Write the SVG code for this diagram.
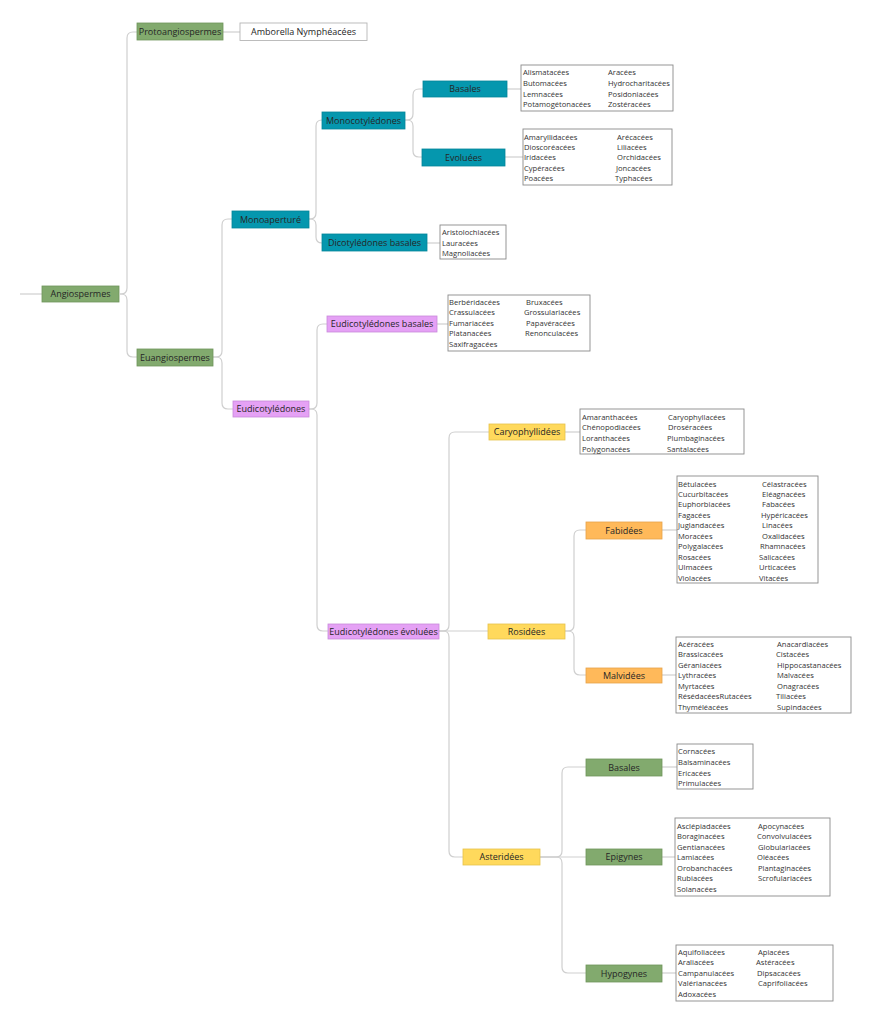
<svg xmlns="http://www.w3.org/2000/svg" width="889" height="1024" viewBox="0 0 889 1024">
<style>
.bg{fill:#ffffff}
.c{fill:none;stroke:#cfcfcf;stroke-width:1.2}
.g{fill:#82aa6e;stroke:#6e955b;stroke-width:0.8}
.t{fill:#0597ae;stroke:#048599;stroke-width:0.8}
.p{fill:#e5a1f5;stroke:#c98ad9;stroke-width:0.8}
.y{fill:#ffd95c;stroke:#e6c24b;stroke-width:0.8}
.o{fill:#ffb95a;stroke:#e6a24a;stroke-width:0.8}
.lb{fill:#ffffff;stroke:#8a8a8a;stroke-width:0.9}
.lb2{fill:#ffffff;stroke:#b5b5b5;stroke-width:0.9}
.nl{font-family:"Open Sans","DejaVu Sans",sans-serif;font-size:9px;fill:#262626;text-anchor:middle}
.li{font-family:"Open Sans","DejaVu Sans",sans-serif;font-size:7.6px;fill:#333333}
</style>
<rect class="bg" x="0" y="0" width="889" height="1024"/>
<g id="connectors">
<path class="c" d="M20,294 H42"/>
<path class="c" d="M120,294 H121 Q127,294 127,288 V38 Q127,32 133,32 H137"/>
<path class="c" d="M120,294 H121 Q127,294 127,300 V351 Q127,357 133,357 H137"/>
<path class="c" d="M213,357 H216 Q222,357 222,351 V225 Q222,219 228,219 H232"/>
<path class="c" d="M213,357 H216 Q222,357 222,363 V403 Q222,409 228,409 H233"/>
<path class="c" d="M309,219 H310 Q316,219 316,213 V126 Q316,120 322,120"/>
<path class="c" d="M309,219 H310 Q316,219 316,225 V237 Q316,243 322,243"/>
<path class="c" d="M405,120 H407 Q413,120 413,114 V95 Q413,89 419,89 H423"/>
<path class="c" d="M405,120 H407 Q413,120 413,126 V151 Q413,157 419,157 H422"/>
<path class="c" d="M309,409 H311 Q317,409 317,403 V330 Q317,324 323,324 H327"/>
<path class="c" d="M309,409 H311 Q317,409 317,415 V625 Q317,631 323,631 H328"/>
<path class="c" d="M439,631 H443 Q449,631 449,625 V438 Q449,432 455,432 H489"/>
<path class="c" d="M439,631 H488"/>
<path class="c" d="M439,631 H443 Q449,631 449,637 V851 Q449,857 455,857 H463"/>
<path class="c" d="M565,631 H568 Q574,631 574,625 V536 Q574,530 580,530 H586"/>
<path class="c" d="M565,631 H568 Q574,631 574,637 V669 Q574,675 580,675 H586"/>
<path class="c" d="M540,857 H556 Q562,857 562,851 V773 Q562,767 568,767 H586"/>
<path class="c" d="M540,857 H586"/>
<path class="c" d="M540,857 H556 Q562,857 562,863 V967 Q562,973 568,973 H586"/>
<path class="c" d="M223,32 H240"/>
<path class="c" d="M507,89 H521"/>
<path class="c" d="M505,157 H523"/>
<path class="c" d="M427,243 H440"/>
<path class="c" d="M437,324 H448"/>
<path class="c" d="M565,432 H580"/>
<path class="c" d="M662,530 H677"/>
<path class="c" d="M662,675 H676"/>
<path class="c" d="M662,767 H677"/>
<path class="c" d="M662,857 H675"/>
<path class="c" d="M662,973 H676"/>
</g>
<g id="angiospermes"><rect class="g" x="42" y="286" width="77" height="16"/><text class="nl" x="80.5" y="297.2">Angiospermes</text></g>
<g id="protoangiospermes"><rect class="g" x="137" y="23" width="86" height="17"/><text class="nl" x="180" y="34.7">Protoangiospermes</text></g>
<g id="amborella"><rect class="lb2" x="240" y="23" width="127" height="17.5"/><text class="nl" x="303.5" y="35">Amborella Nymphéacées</text></g>
<g id="euangiospermes"><rect class="g" x="137" y="349" width="76" height="17"/><text class="nl" x="175" y="360.7">Euangiospermes</text></g>
<g id="monoaperture"><rect class="t" x="232" y="211" width="77" height="17"/><text class="nl" x="270.5" y="222.7">Monoaperturé</text></g>
<g id="monocotyledones"><rect class="t" x="322" y="112" width="83" height="17"/><text class="nl" x="363.5" y="123.7">Monocotylédones</text></g>
<g id="mono-basales"><rect class="t" x="423" y="81" width="84" height="16"/><text class="nl" x="465" y="92.2">Basales</text></g>
<g id="mono-evoluees"><rect class="t" x="422" y="149" width="83" height="17"/><text class="nl" x="463.5" y="160.7">Evoluées</text></g>
<g id="dicot-basales"><rect class="t" x="322" y="234" width="105" height="17"/><text class="nl" x="374.5" y="245.7">Dicotylédones basales</text></g>
<g id="eudicotyledones"><rect class="p" x="233" y="401" width="76" height="16"/><text class="nl" x="271" y="412.2">Eudicotylédones</text></g>
<g id="eudicot-basales"><rect class="p" x="327" y="316" width="110" height="16"/><text class="nl" x="382" y="327.2">Eudicotylédones basales</text></g>
<g id="eudicot-evoluees"><rect class="p" x="328" y="624" width="111" height="15"/><text class="nl" x="383.5" y="634.5">Eudicotylédones évoluées</text></g>
<g id="caryophyllidees"><rect class="y" x="489" y="424" width="76" height="16"/><text class="nl" x="527" y="435.2">Caryophyllidées</text></g>
<g id="rosidees"><rect class="y" x="488" y="624" width="77" height="15"/><text class="nl" x="526.5" y="634.5">Rosidées</text></g>
<g id="asteridees"><rect class="y" x="463" y="849" width="77" height="16"/><text class="nl" x="501.5" y="860.2">Asteridées</text></g>
<g id="fabidees"><rect class="o" x="586" y="522" width="76" height="17"/><text class="nl" x="624" y="533.7">Fabidées</text></g>
<g id="malvidees"><rect class="o" x="586" y="668" width="76" height="15"/><text class="nl" x="624" y="678.5">Malvidées</text></g>
<g id="aster-basales"><rect class="g" x="586" y="759" width="76" height="17"/><text class="nl" x="624" y="770.7">Basales</text></g>
<g id="epigynes"><rect class="g" x="586" y="849" width="76" height="16"/><text class="nl" x="624" y="860.2">Epigynes</text></g>
<g id="hypogynes"><rect class="g" x="586" y="965" width="76" height="17"/><text class="nl" x="624" y="976.7">Hypogynes</text></g>
<g id="list-mono-basales"><rect class="lb" x="521" y="65" width="152" height="46"/>
<text class="li"><tspan x="523" y="74.8">Alismatacées</tspan><tspan x="523" y="85.8">Butomacées</tspan><tspan x="523" y="96.8">Lemnacées</tspan><tspan x="523" y="106.8">Potamogétonacées</tspan></text>
<text class="li"><tspan x="608" y="74.8">Aracées</tspan><tspan x="608" y="85.8">Hydrocharitacées</tspan><tspan x="608" y="96.8">Posidoniacées</tspan><tspan x="608" y="106.8">Zostéracées</tspan></text></g>
<g id="list-mono-evoluees"><rect class="lb" x="523" y="129" width="149" height="56"/>
<text class="li"><tspan x="524" y="139.8">Amaryllidacées</tspan><tspan x="524" y="149.8">Dioscoréacées</tspan><tspan x="524" y="159.8">Iridacées</tspan><tspan x="524" y="170.8">Cypéracées</tspan><tspan x="524" y="180.8">Poacées</tspan></text>
<text class="li"><tspan x="617" y="139.8">Arécacées</tspan><tspan x="617" y="149.8">Liliacées</tspan><tspan x="617" y="159.8">Orchidacées</tspan><tspan x="616" y="170.8">Joncacées</tspan><tspan x="615" y="180.8">Typhacées</tspan></text></g>
<g id="list-dicot-basales"><rect class="lb" x="440" y="225" width="66" height="34"/>
<text class="li"><tspan x="442" y="234.8">Aristolochiacées</tspan><tspan x="442" y="245.8">Lauracées</tspan><tspan x="442" y="255.8">Magnoliacées</tspan></text></g>
<g id="list-eudicot-basales"><rect class="lb" x="448" y="295" width="142" height="56"/>
<text class="li"><tspan x="449" y="304.8">Berbéridacées</tspan><tspan x="449" y="314.8">Crassulacées</tspan><tspan x="449" y="325.8">Fumariacées</tspan><tspan x="449" y="335.8">Platanacées</tspan><tspan x="449" y="346.8">Saxifragacées</tspan></text>
<text class="li"><tspan x="526" y="304.8">Bruxacées</tspan><tspan x="524" y="314.8">Grossulariacées</tspan><tspan x="526" y="325.8">Papavéracées</tspan><tspan x="525" y="335.8">Renonculacées</tspan></text></g>
<g id="list-caryophyllidees"><rect class="lb" x="580" y="409" width="164" height="45"/>
<text class="li"><tspan x="582" y="419.8">Amaranthacées</tspan><tspan x="582" y="429.8">Chénopodiacées</tspan><tspan x="582" y="440.8">Loranthacées</tspan><tspan x="582" y="451.8">Polygonacées</tspan></text>
<text class="li"><tspan x="668" y="419.8">Caryophyllacées</tspan><tspan x="668" y="429.8">Droséracées</tspan><tspan x="667" y="440.8">Plumbaginacées</tspan><tspan x="667" y="451.8">Santalacées</tspan></text></g>
<g id="list-fabidees"><rect class="lb" x="677" y="476" width="141" height="107"/>
<text class="li"><tspan x="678" y="486.8">Bétulacées</tspan><tspan x="678" y="496.8">Cucurbitacées</tspan><tspan x="678" y="506.8">Euphorbiacées</tspan><tspan x="678" y="517.8">Fagacées</tspan><tspan x="678" y="527.8">Juglandacées</tspan><tspan x="678" y="538.8">Moracées</tspan><tspan x="678" y="548.8">Polygalacées</tspan><tspan x="678" y="559.8">Rosacées</tspan><tspan x="678" y="569.8">Ulmacées</tspan><tspan x="678" y="580.8">Violacées</tspan></text>
<text class="li"><tspan x="762" y="486.8">Célastracées</tspan><tspan x="762" y="496.8">Eléagnacées</tspan><tspan x="762" y="506.8">Fabacées</tspan><tspan x="761" y="517.8">Hypéricacées</tspan><tspan x="762" y="527.8">Linacées</tspan><tspan x="762" y="538.8">Oxalidacées</tspan><tspan x="760" y="548.8">Rhamnacées</tspan><tspan x="759" y="559.8">Salicacées</tspan><tspan x="759" y="569.8">Urticacées</tspan><tspan x="759" y="580.8">Vitacées</tspan></text></g>
<g id="list-malvidees"><rect class="lb" x="676" y="637" width="175" height="76"/>
<text class="li"><tspan x="678" y="646.8">Acéracées</tspan><tspan x="678" y="656.8">Brassicacées</tspan><tspan x="678" y="667.8">Géraniacées</tspan><tspan x="678" y="677.8">Lythracées</tspan><tspan x="678" y="688.8">Myrtacées</tspan><tspan x="678" y="698.8">RésédacéesRutacées</tspan><tspan x="678" y="709.8">Thyméléacées</tspan></text>
<text class="li"><tspan x="777" y="646.8">Anacardiacées</tspan><tspan x="776" y="656.8">Cistacées</tspan><tspan x="777" y="667.8">Hippocastanacées</tspan><tspan x="777" y="677.8">Malvacées</tspan><tspan x="777" y="688.8">Onagracées</tspan><tspan x="776" y="698.8">Tiliacées</tspan><tspan x="777" y="709.8">Supindacées</tspan></text></g>
<g id="list-aster-basales"><rect class="lb" x="677" y="744" width="76" height="45"/>
<text class="li"><tspan x="678" y="753.8">Cornacées</tspan><tspan x="678" y="764.8">Balsaminacées</tspan><tspan x="678" y="775.8">Ericacées</tspan><tspan x="678" y="785.8">Primulacées</tspan></text></g>
<g id="list-epigynes"><rect class="lb" x="675" y="818" width="155" height="78"/>
<text class="li"><tspan x="677" y="828.8">Asclépiadacées</tspan><tspan x="677" y="838.8">Boraginacées</tspan><tspan x="677" y="849.8">Gentianacées</tspan><tspan x="677" y="859.8">Lamiacées</tspan><tspan x="677" y="870.8">Orobanchacées</tspan><tspan x="677" y="880.8">Rubiacées</tspan><tspan x="677" y="891.8">Solanacées</tspan></text>
<text class="li"><tspan x="758" y="828.8">Apocynacées</tspan><tspan x="757" y="838.8">Convolvulacées</tspan><tspan x="758" y="849.8">Globulariacées</tspan><tspan x="757" y="859.8">Oléacées</tspan><tspan x="758" y="870.8">Plantaginacées</tspan><tspan x="758" y="880.8">Scrofulariacées</tspan></text></g>
<g id="list-hypogynes"><rect class="lb" x="676" y="945" width="157" height="56"/>
<text class="li"><tspan x="678" y="954.8">Aquifoliacées</tspan><tspan x="678" y="964.8">Araliacées</tspan><tspan x="678" y="975.8">Campanulacées</tspan><tspan x="678" y="985.8">Valérianacées</tspan><tspan x="678" y="996.8">Adoxacées</tspan></text>
<text class="li"><tspan x="758" y="954.8">Apiacées</tspan><tspan x="756" y="964.8">Astéracées</tspan><tspan x="757" y="975.8">Dipsacacées</tspan><tspan x="758" y="985.8">Caprifoliacées</tspan></text></g>
</svg>
